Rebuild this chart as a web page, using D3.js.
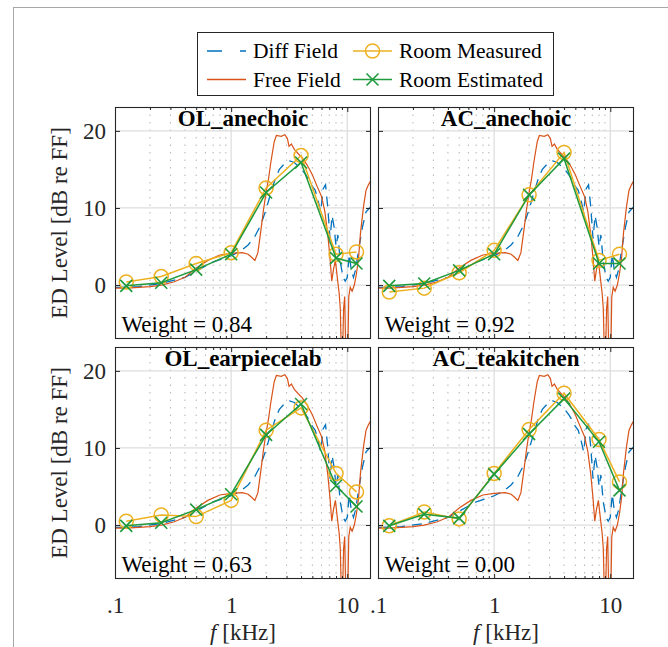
<!DOCTYPE html>
<html lang="en">
<head>
<meta charset="UTF-8">
<title>ED Level re FF</title>
<script src="https://d3js.org/d3.v7.min.js"></script>
<style>
  body { margin: 0; background: #fff; }
  svg { display: block; }
  svg text { font-family: "Liberation Serif", "Times New Roman", Times, serif; }
</style>
</head>
<body>
<svg id="chart" width="668" height="647"></svg>
<script>
// octave band centres used for the room measurements [kHz]
const bandFreqs = [0.125, 0.25, 0.5, 1, 2, 4, 8, 12];

const panelTitles = ["OL_anechoic", "AC_anechoic", "OL_earpiecelab", "AC_teakitchen"];
const weights = ["0.84", "0.92", "0.63", "0.00"];

const measOLAnechoic   = [0.4, 1.1, 2.8, 4.2, 12.6, 16.8, 4.0, 4.3];
const estOLAnechoic    = [-0.1, 0.3, 2.0, 4.0, 12.0, 15.9, 3.5, 2.8];
const measACAnechoic   = [-0.9, -0.4, 1.6, 4.5, 11.7, 17.2, 3.2, 4.0];
const estACAnechoic    = [-0.1, 0.2, 1.9, 4.0, 11.7, 16.4, 2.8, 2.8];
const measOLEarpiece   = [0.5, 1.3, 1.1, 3.2, 12.3, 15.2, 6.7, 4.3];
const estOLEarpiece    = [-0.1, 0.3, 2.0, 4.0, 11.7, 15.7, 5.1, 2.4];
const measACTeakitchen = [-0.1, 1.7, 0.8, 6.7, 12.4, 17.1, 11.1, 5.6];
const estACTeakitchen  = [-0.1, 1.4, 0.9, 6.6, 11.8, 16.4, 10.8, 4.5];

// diffuse field reference
const diffFreq  = [0.1, 0.16, 0.25, 0.4, 0.5, 0.7, 1.0, 1.2, 1.4, 1.6, 1.8, 2.0, 2.2, 2.4, 2.6, 2.9, 3.2, 3.5, 3.8,
                   4.1, 4.4, 4.7, 5.0, 5.3, 5.6, 5.9, 6.2, 6.5, 6.8, 7.1, 7.4, 7.7, 8.0, 8.3, 8.7, 9.2, 9.6, 10.0,
                   10.4, 10.8, 11.3, 11.8, 12.5, 13.5, 14.5, 16.0];
const diffLevel = [-0.3, -0.2, 0.2, 1.0, 1.8, 3.0, 3.8, 4.4, 5.2, 6.3, 7.8, 9.8, 12.0, 13.8, 15.0, 15.8, 16.1, 15.9, 15.4,
                   14.9, 14.3, 13.6, 12.8, 12.3, 11.0, 9.5, 12.5, 13.0, 10.0, 6.0, 9.0, 7.5, 5.0, 6.5, 3.0, 1.0, 0.5, 1.0,
                   4.0, 2.0, 1.0, 2.0, 4.5, 7.5, 9.5, 10.2];

// free field reference
const freeFreq  = [0.1, 0.125, 0.16, 0.2, 0.25, 0.32, 0.4, 0.5, 0.63, 0.8, 1.0, 1.25, 1.4, 1.5, 1.6, 1.7, 1.8, 1.9,
                   2.0, 2.1, 2.2, 2.35, 2.45, 2.7, 2.9, 3.05, 3.15, 3.3, 3.5, 3.8, 4.1, 4.5, 5.0, 5.5, 6.0, 6.4,
                   6.8, 7.1, 7.35, 7.6, 7.9, 8.2, 8.5, 8.7, 8.9, 9.1, 9.3, 9.5, 9.7, 10.1, 10.3, 10.6, 11.0, 11.5,
                   12.0, 12.5, 13.0, 13.8, 14.5, 15.2, 16.0];
const freeLevel = [-0.4, -0.4, -0.3, -0.2, 0.0, 0.4, 1.0, 2.2, 3.2, 3.9, 4.1, 4.2, 4.0, 3.6, 3.2, 4.2, 7.0, 9.8,
                   12.0, 13.8, 16.0, 18.6, 19.4, 19.3, 19.5, 19.0, 18.0, 18.3, 17.6, 17.0, 16.5, 15.6, 14.3, 12.8, 11.5, 9.6,
                   6.5, 3.5, 0.5, 2.0, 3.2, 1.0, -1.0, -3.0, -9, -9, -3.0, -1.5, -9, -9, -1.5, -0.3, -0.8, 0.0,
                   1.5, 3.5, 6.8, 10.2, 12.3, 13.0, 13.6];

const xTicks = [0.1, 1, 10];
const xMinor = [0.2, 0.3, 0.4, 0.5, 0.6, 0.7, 0.8, 0.9, 2, 3, 4, 5, 6, 7, 8, 9];
const yTicks = [0, 10, 20];

const panels = [
  { title: panelTitles[0], weight: weights[0], meas: measOLAnechoic, est: estOLAnechoic },
  { title: panelTitles[1], weight: weights[1], meas: measACAnechoic, est: estACAnechoic },
  { title: panelTitles[2], weight: weights[2], meas: measOLEarpiece, est: estOLEarpiece },
  { title: panelTitles[3], weight: weights[3], meas: measACTeakitchen, est: estACTeakitchen }
];

const colors = { diff: "#0072BD", free: "#D95319", meas: "#EDB120", est: "#1f9a3c" };
const axisColor = "#262626";
const serif = "'Liberation Serif', 'Times New Roman', Times, serif";

const colX = [115, 378], rowY = [107, 347];
const W = 256, H = 232;

const svg = d3.select("#chart").attr("font-family", serif);

// outer figure frame
svg.append("rect").attr("x", 13.5).attr("y", 7.5).attr("width", 700).attr("height", 700)
  .attr("fill", "none").attr("stroke", "#a8a8a8");

function xMarker(sel, c) {
  sel.append("path").attr("d", "M-6,-6L6,6M-6,6L6,-6")
    .attr("stroke", c).attr("stroke-width", 1.6).attr("fill", "none");
}

panels.forEach((p, i) => {
  const col = i % 2, row = Math.floor(i / 2);
  const x = d3.scaleLog().domain([0.1, 16]).range([0, W]);
  const y = d3.scaleLinear().domain([-7, 23.1]).range([H, 0]);
  const g = svg.append("g").attr("transform", `translate(${colX[col]},${rowY[row]})`);

  g.append("rect").attr("width", W).attr("height", H).attr("fill", "#fff");

  // minor vertical grid (dotted)
  g.append("g").selectAll("line").data(xMinor).join("line")
    .attr("x1", d => x(d)).attr("x2", d => x(d)).attr("y1", 0).attr("y2", H)
    .attr("stroke", "#b5b5b5").attr("stroke-width", 1).attr("stroke-dasharray", "1.5,6");

  // major grid
  g.append("g").selectAll("line").data(xTicks.slice(1)).join("line")
    .attr("x1", d => x(d)).attr("x2", d => x(d)).attr("y1", 0).attr("y2", H)
    .attr("stroke", "#dedede").attr("stroke-width", 1.3);
  g.append("g").selectAll("line").data(yTicks).join("line")
    .attr("x1", 0).attr("x2", W).attr("y1", d => y(d)).attr("y2", d => y(d))
    .attr("stroke", "#dedede").attr("stroke-width", 1.3);

  const clipId = "clip" + i;
  g.append("clipPath").attr("id", clipId).append("rect").attr("width", W).attr("height", H);
  const plot = g.append("g").attr("clip-path", `url(#${clipId})`);

  const line = d3.line().x(d => x(d[0])).y(d => y(d[1]));

  plot.append("path").datum(d3.zip(diffFreq, diffLevel)).attr("d", line)
    .attr("fill", "none").attr("stroke", colors.diff).attr("stroke-width", 1.3)
    .attr("stroke-dasharray", "10,7");
  plot.append("path").datum(d3.zip(freeFreq, freeLevel)).attr("d", line)
    .attr("fill", "none").attr("stroke", colors.free).attr("stroke-width", 1.2);

  const meas = d3.zip(bandFreqs, p.meas);
  const est = d3.zip(bandFreqs, p.est);

  plot.append("path").datum(meas).attr("d", line)
    .attr("fill", "none").attr("stroke", colors.meas).attr("stroke-width", 1.5);
  plot.append("g").selectAll("circle").data(meas).join("circle")
    .attr("cx", d => x(d[0])).attr("cy", d => y(d[1])).attr("r", 7)
    .attr("fill", "none").attr("stroke", colors.meas).attr("stroke-width", 1.5);

  plot.append("path").datum(est).attr("d", line)
    .attr("fill", "none").attr("stroke", colors.est).attr("stroke-width", 1.5);
  plot.append("g").selectAll("g").data(est).join("g")
    .attr("transform", d => `translate(${x(d[0])},${y(d[1])})`)
    .each(function () { xMarker(d3.select(this), colors.est); });

  // inward ticks on all four sides
  const tickAxes = [
    [d3.axisBottom(x).tickValues(xTicks).tickSizeInner(-5), `translate(0,${H})`],
    [d3.axisTop(x).tickValues(xTicks).tickSizeInner(-5), null],
    [d3.axisBottom(x).tickValues(xMinor).tickSizeInner(-3), `translate(0,${H})`],
    [d3.axisTop(x).tickValues(xMinor).tickSizeInner(-3), null],
    [d3.axisLeft(y).tickValues(yTicks).tickSizeInner(-5), null],
    [d3.axisRight(y).tickValues(yTicks).tickSizeInner(-5), `translate(${W},0)`]
  ];
  tickAxes.forEach(([ax, tr]) => {
    const a = g.append("g").call(ax.tickSizeOuter(0).tickFormat(""));
    if (tr) a.attr("transform", tr);
    a.select(".domain").remove();
    a.selectAll("line").attr("stroke", axisColor);
  });

  g.append("rect").attr("x", 0.5).attr("y", 0.5).attr("width", W - 1).attr("height", H - 1)
    .attr("fill", "none").attr("stroke", axisColor).attr("stroke-width", 1.1);

  g.append("text").attr("x", W / 2).attr("y", 19).attr("text-anchor", "middle")
    .attr("font-family", serif).attr("font-size", 23).attr("font-weight", "bold")
    .attr("fill", "#000").text(p.title);

  g.append("text").attr("x", 6.5).attr("y", H - 7)
    .attr("font-family", serif).attr("font-size", 23).attr("fill", "#000")
    .text("Weight = " + p.weight);

  if (col === 0) {
    const ya = g.append("g").call(d3.axisLeft(y).tickValues(yTicks).tickSize(0).tickPadding(9));
    ya.attr("font-family", serif).attr("font-size", 23);
    ya.select(".domain").remove();
    ya.selectAll("text").attr("fill", axisColor);

    g.append("text").attr("transform", `translate(-48,${H / 2}) rotate(-90)`)
      .attr("text-anchor", "middle").attr("font-family", serif).attr("font-size", 23)
      .attr("fill", axisColor).text("ED Level [dB re FF]");
  }
  if (row === 1) {
    const xa = g.append("g").attr("transform", `translate(0,${H})`)
      .call(d3.axisBottom(x).tickValues(xTicks).tickSize(0).tickPadding(18)
        .tickFormat(d => d < 1 ? ".1" : d3.format("d")(d)));
    xa.attr("font-family", serif).attr("font-size", 23);
    xa.select(".domain").remove();
    xa.selectAll("text").attr("fill", axisColor);

    const xl = g.append("text").attr("x", W / 2).attr("y", H + 61)
      .attr("text-anchor", "middle").attr("font-family", serif).attr("font-size", 23)
      .attr("fill", axisColor);
    xl.append("tspan").attr("font-style", "italic").text("f");
    xl.append("tspan").text(" [kHz]");
  }
});

// legend
const lg = svg.append("g");
lg.append("rect").attr("x", 197.5).attr("y", 32.5).attr("width", 356).attr("height", 63)
  .attr("fill", "#fff").attr("stroke", axisColor).attr("stroke-width", 1);

const legendItems = [
  { label: "Diff Field", color: colors.diff, dash: "15,18", mark: null, lx: 207, ly: 51 },
  { label: "Free Field", color: colors.free, dash: null, mark: null, lx: 207, ly: 79.5 },
  { label: "Room Measured", color: colors.meas, dash: null, mark: "o", lx: 353, ly: 51 },
  { label: "Room Estimated", color: colors.est, dash: null, mark: "x", lx: 353, ly: 79.5 }
];
legendItems.forEach(it => {
  lg.append("line").attr("x1", it.lx).attr("x2", it.lx + 39).attr("y1", it.ly).attr("y2", it.ly)
    .attr("stroke", it.color).attr("stroke-width", 1.4)
    .attr("stroke-dasharray", it.dash);
  if (it.mark === "o") {
    lg.append("circle").attr("cx", it.lx + 19.5).attr("cy", it.ly).attr("r", 7)
      .attr("fill", "none").attr("stroke", it.color).attr("stroke-width", 1.5);
  } else if (it.mark === "x") {
    xMarker(lg.append("g").attr("transform", `translate(${it.lx + 19.5},${it.ly})`), it.color);
  }
  lg.append("text").attr("x", it.lx + 46).attr("y", it.ly).attr("dy", "0.33em")
    .attr("font-family", serif).attr("font-size", 21.5).attr("fill", "#000").text(it.label);
});
</script>
</body>
</html>
